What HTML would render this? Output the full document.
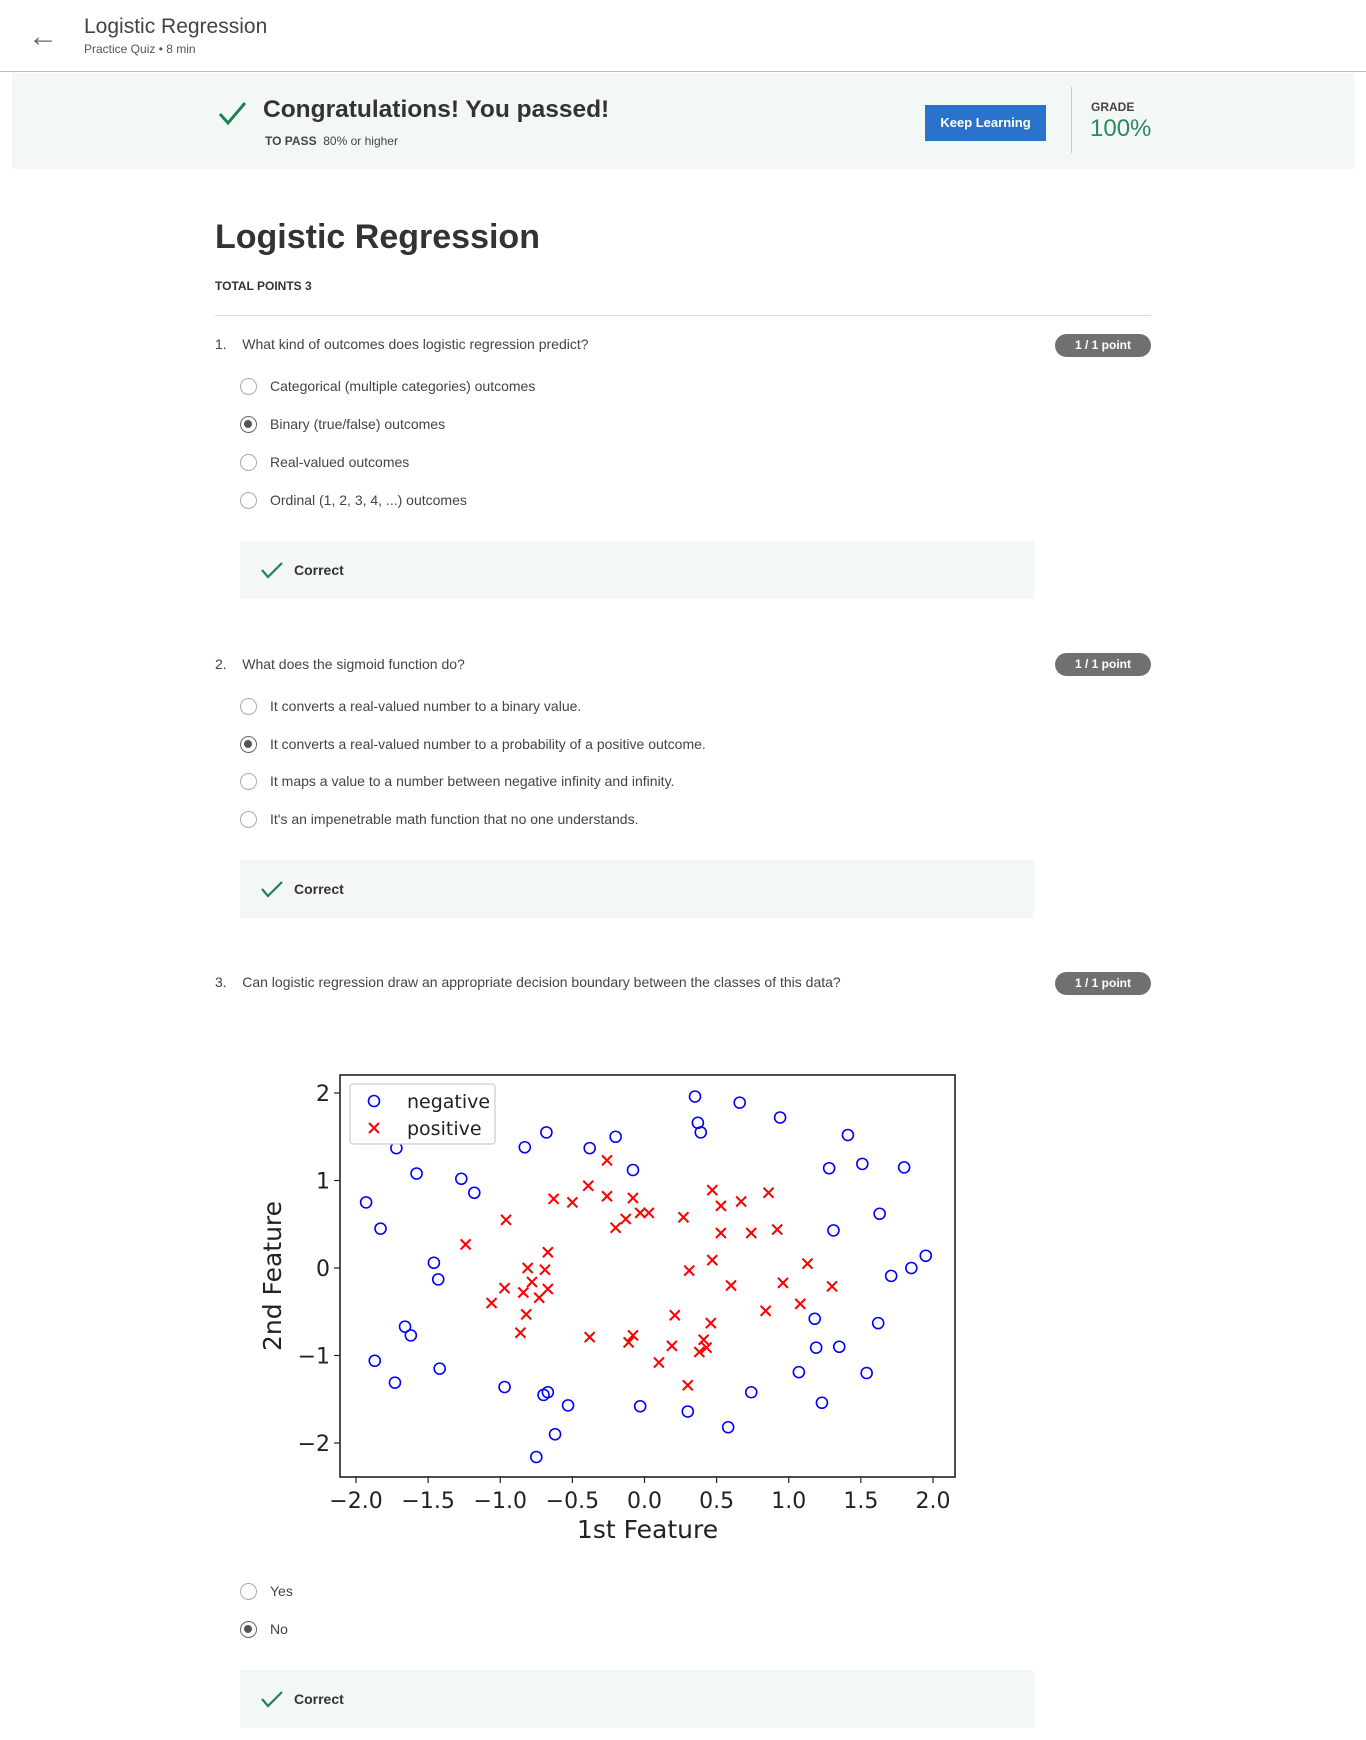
<!DOCTYPE html>
<html><head><meta charset="utf-8"><style>
body{margin:0;width:1366px;height:1740px;position:relative;background:#fff;font-family:"Liberation Sans",sans-serif;color:#333;overflow:hidden}
.a{position:absolute;white-space:nowrap}
.radio{position:absolute;width:17px;height:17px;border:1.5px solid #aaa;border-radius:50%;box-sizing:border-box}
.radio.sel{border-color:#666}
.radio.sel::after{content:"";position:absolute;left:3px;top:3px;width:8px;height:8px;border-radius:50%;background:#555}
.opt{position:absolute;font-size:14px;color:#444}
.badge{position:absolute;left:1055px;width:96px;height:23px;border-radius:12px;background:#707070;color:#fff;font-size:12px;font-weight:bold;text-align:center;line-height:23px}
.correct{position:absolute;left:240px;width:794px;height:58px;background:#f3f7f6}
.correct span{position:absolute;left:54px;top:21px;font-size:14px;font-weight:bold;color:#333}
.q{position:absolute;font-size:14px;color:#444}
.chk{position:absolute}
</style></head><body>
<div class="a" style="left:28px;top:20px;font-size:30px;color:#666">&#8592;</div>
<div class="a" style="left:84px;top:15px;font-size:21px;color:#444">Logistic Regression</div>
<div class="a" style="left:84px;top:42px;font-size:12px;color:#555">Practice Quiz • 8 min</div>
<div class="a" style="left:0;top:71px;width:1366px;height:1px;background:#bbb"></div>
<div class="a" style="left:12px;top:73px;width:1342px;height:96px;background:#f3f8f6"></div>
<svg class="chk" style="left:218px;top:100px" width="30" height="26"><path d="M2 14 L10 23 L27 3" fill="none" stroke="#1f8354" stroke-width="3"/></svg>
<div class="a" style="left:263px;top:96px;font-size:24.5px;font-weight:bold;color:#333">Congratulations! You passed!</div>
<div class="a" style="left:265px;top:134px;font-size:12px;color:#444"><b>TO PASS</b>&nbsp; 80% or higher</div>
<div class="a" style="left:925px;top:105px;width:121px;height:36px;background:#2a73cc;color:#fff;font-size:13px;font-weight:bold;text-align:center;line-height:36px">Keep Learning</div>
<div class="a" style="left:1071px;top:87px;width:1px;height:66px;background:#ccc"></div>
<div class="a" style="left:1091px;top:100px;font-size:12px;font-weight:bold;color:#444">GRADE</div>
<div class="a" style="left:1090px;top:115px;font-size:24px;color:#2a8a5c">100%</div>
<div class="a" style="left:215px;top:218px;font-size:34px;font-weight:bold;color:#333">Logistic Regression</div>
<div class="a" style="left:215px;top:279px;font-size:12px;font-weight:bold;color:#333">TOTAL POINTS 3</div>
<div class="a" style="left:215px;top:315px;width:936px;height:1px;background:#ddd"></div>

<div class="q" style="left:215px;top:336px">1.&nbsp;&nbsp;&nbsp; What kind of outcomes does logistic regression predict?</div>
<div class="badge" style="top:334px">1 / 1 point</div>
<div class="radio" style="left:240px;top:378px"></div><div class="opt" style="left:270px;top:378px">Categorical (multiple categories) outcomes</div>
<div class="radio sel" style="left:240px;top:416px"></div><div class="opt" style="left:270px;top:416px">Binary (true/false) outcomes</div>
<div class="radio" style="left:240px;top:454px"></div><div class="opt" style="left:270px;top:454px">Real-valued outcomes</div>
<div class="radio" style="left:240px;top:492px"></div><div class="opt" style="left:270px;top:492px">Ordinal (1, 2, 3, 4, ...) outcomes</div>
<div class="correct" style="top:541px"><svg class="chk" style="left:20px;top:20px" width="24" height="18"><path d="M2 9 L8 16 L22 2" fill="none" stroke="#1f8354" stroke-width="2.2"/></svg><span>Correct</span></div>

<div class="q" style="left:215px;top:656px">2.&nbsp;&nbsp;&nbsp; What does the sigmoid function do?</div>
<div class="badge" style="top:653px">1 / 1 point</div>
<div class="radio" style="left:240px;top:698px"></div><div class="opt" style="left:270px;top:698px">It converts a real-valued number to a binary value.</div>
<div class="radio sel" style="left:240px;top:736px"></div><div class="opt" style="left:270px;top:736px">It converts a real-valued number to a probability of a positive outcome.</div>
<div class="radio" style="left:240px;top:773px"></div><div class="opt" style="left:270px;top:773px">It maps a value to a number between negative infinity and infinity.</div>
<div class="radio" style="left:240px;top:811px"></div><div class="opt" style="left:270px;top:811px">It's an impenetrable math function that no one understands.</div>
<div class="correct" style="top:860px"><svg class="chk" style="left:20px;top:20px" width="24" height="18"><path d="M2 9 L8 16 L22 2" fill="none" stroke="#1f8354" stroke-width="2.2"/></svg><span>Correct</span></div>

<div class="q" style="left:215px;top:974px">3.&nbsp;&nbsp;&nbsp; Can logistic regression draw an appropriate decision boundary between the classes of this data?</div>
<div class="badge" style="top:972px">1 / 1 point</div>

<svg id="chart" style="position:absolute;left:0;top:0" width="1366" height="1740" xmlns="http://www.w3.org/2000/svg"></svg>

<div class="radio" style="left:240px;top:1583px"></div><div class="opt" style="left:270px;top:1583px">Yes</div>
<div class="radio sel" style="left:240px;top:1621px"></div><div class="opt" style="left:270px;top:1621px">No</div>
<div class="correct" style="top:1670px"><svg class="chk" style="left:20px;top:20px" width="24" height="18"><path d="M2 9 L8 16 L22 2" fill="none" stroke="#1f8354" stroke-width="2.2"/></svg><span>Correct</span></div>

<script>
const negX=[0.35,0.66,0.94,0.37,0.39,1.41,-0.68,-0.20,-0.83,-0.38,-1.72,-0.08,1.28,1.51,1.80,-1.58,-1.27,-1.18,-1.93,-1.83,1.63,1.31,-1.46,-1.43,1.95,1.85,1.71,-1.66,-1.62,1.18,1.62,-1.87,-1.42,-1.73,1.19,1.35,1.07,1.54,-0.97,-0.70,-0.67,-0.53,-0.03,0.30,0.74,1.23,0.58,-0.62,-0.75];
const negY=[1.96,1.89,1.72,1.66,1.55,1.52,1.55,1.50,1.38,1.37,1.37,1.12,1.14,1.19,1.15,1.08,1.02,0.86,0.75,0.45,0.62,0.43,0.06,-0.13,0.14,0.00,-0.09,-0.67,-0.77,-0.58,-0.63,-1.06,-1.15,-1.31,-0.91,-0.90,-1.19,-1.20,-1.36,-1.45,-1.42,-1.57,-1.58,-1.64,-1.42,-1.54,-1.82,-1.90,-2.16];
const posX=[-0.26,-0.39,-0.63,-0.50,-0.26,-0.08,-0.13,-0.20,-0.03,0.03,-0.96,-1.24,-0.67,-0.81,-0.69,-0.78,-0.97,-0.67,-0.84,-0.73,-1.06,-0.82,-0.86,0.27,0.47,0.53,0.67,0.86,0.53,0.74,0.92,0.47,0.31,0.60,0.96,1.13,1.30,1.08,0.84,0.21,0.46,-0.38,-0.08,-0.11,0.19,0.41,0.38,0.43,0.10,0.30];
const posY=[1.23,0.94,0.79,0.75,0.82,0.80,0.56,0.46,0.63,0.63,0.55,0.27,0.18,0.00,-0.02,-0.16,-0.23,-0.24,-0.28,-0.34,-0.40,-0.53,-0.74,0.58,0.89,0.71,0.76,0.86,0.40,0.40,0.44,0.09,-0.03,-0.20,-0.17,0.05,-0.21,-0.41,-0.49,-0.54,-0.63,-0.79,-0.77,-0.85,-0.89,-0.82,-0.96,-0.91,-1.08,-1.34];
const xTicks=[-2.0,-1.5,-1.0,-0.5,0.0,0.5,1.0,1.5,2.0];
const yTicks=[-2,-1,0,1,2];
const xTickLabels=["\u22122.0","\u22121.5","\u22121.0","\u22120.5","0.0","0.5","1.0","1.5","2.0"];
const yTickLabels=["\u22122","\u22121","0","1","2"];

const NS="http://www.w3.org/2000/svg";
const svg=document.getElementById('chart');
const L=340,R=955,T=1075,B=1477;
const sx=v=>356+(v+2)*(933-356)/4;
const sy=v=>1268-v*87.5;
function mk(tag,at){const e=document.createElementNS(NS,tag);for(const k in at)e.setAttribute(k,at[k]);svg.appendChild(e);return e;}
let frame=mk('rect',{x:L,y:T,width:R-L,height:B-T,fill:'#fff',stroke:'#222','stroke-width':1.6});


xTicks.forEach((v,i)=>{
  let t=mk('line',{x1:sx(v),x2:sx(v),y1:B,y2:B+6,stroke:'#222','stroke-width':1.2});
  
  
  let l=mk('text',{x:sx(v),y:B+31,'text-anchor':'middle','font-size':22,fill:'#222','font-family':'DejaVu Sans, sans-serif'});
  l.textContent=xTickLabels[i];
  
  
});
yTicks.forEach((v,i)=>{
  let t=mk('line',{x1:L-6,x2:L,y1:sy(v),y2:sy(v),stroke:'#222','stroke-width':1.2});
  
  
  let l=mk('text',{x:L-10,y:sy(v)+8,'text-anchor':'end','font-size':22,fill:'#222','font-family':'DejaVu Sans, sans-serif'});
  l.textContent=yTickLabels[i];
  
  
});
let xl=mk('text',{x:(L+R)/2,y:1538,'text-anchor':'middle','font-size':25,fill:'#222','font-family':'DejaVu Sans, sans-serif'});
xl.textContent='1st Feature';


let yl=mk('text',{x:0,y:0,'text-anchor':'middle','font-size':25,fill:'#222','font-family':'DejaVu Sans, sans-serif',transform:'translate(281,1276) rotate(-90)'});
yl.textContent='2nd Feature';


function circ(x,y){return mk('circle',{cx:x,cy:y,r:5.5,fill:'none',stroke:'#0000ff','stroke-width':1.6});}
function cross(x,y){const g=document.createElementNS(NS,'g');g.setAttribute('stroke','#ff0000');g.setAttribute('stroke-width','2');
  const a=document.createElementNS(NS,'path');a.setAttribute('d',`M${x-5} ${y-5}L${x+5} ${y+5}M${x-5} ${y+5}L${x+5} ${y-5}`);g.appendChild(a);svg.appendChild(g);return g;}
negX.forEach((v,i)=>{const c=circ(sx(v),sy(negY[i]));
  
  });
posX.forEach((v,i)=>{const c=cross(sx(v),sy(posY[i]));
  
  });
let lg=mk('rect',{x:350,y:1084,width:145,height:60,rx:3,fill:'#fff',stroke:'#ccc','stroke-width':1.2});


let lc=circ(374,1101);


let lx=cross(374,1128);


let t1=mk('text',{x:407,y:1108,'font-size':19,fill:'#222','font-family':'DejaVu Sans, sans-serif'});t1.textContent='negative';


let t2=mk('text',{x:407,y:1135,'font-size':19,fill:'#222','font-family':'DejaVu Sans, sans-serif'});t2.textContent='positive';


</script>
</body></html>
